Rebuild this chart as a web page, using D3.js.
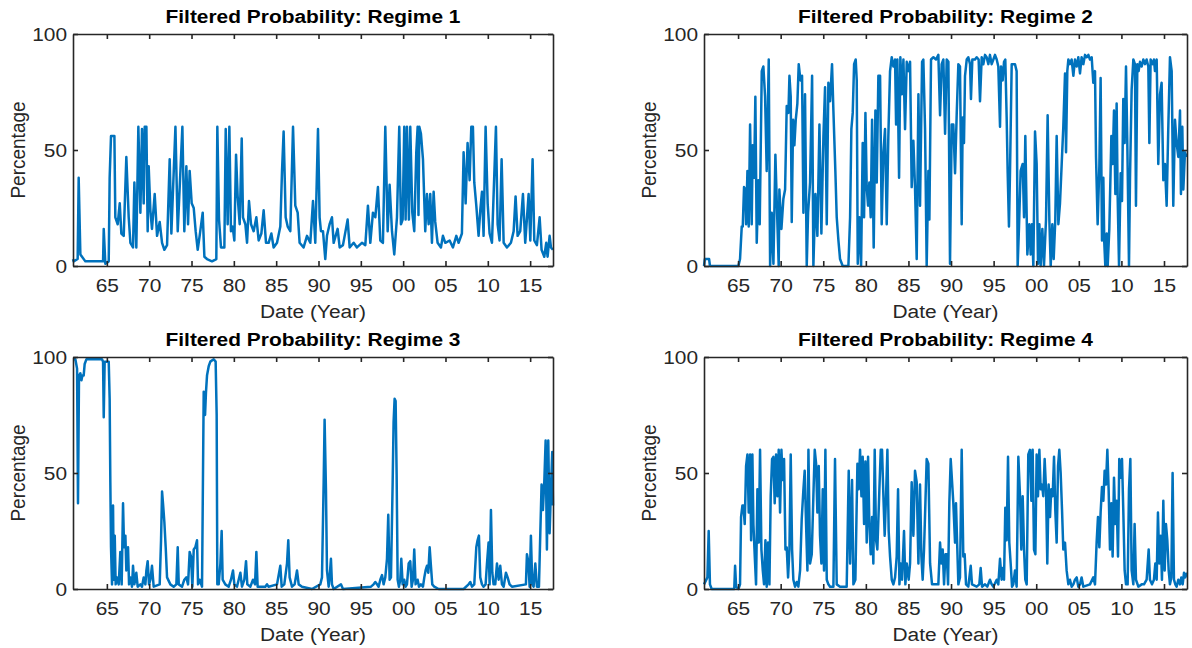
<!DOCTYPE html>
<html>
<head>
<meta charset="utf-8">
<script src="https://cdn.jsdelivr.net/npm/d3@7"></script>
<style>
body{margin:0;background:#fff;}
</style>
</head>
<body>
<script>
// years are given as (year - 1900), e.g. 61.5 = mid 1961, 105.0 = 2005
var regime1 = [[61.0,3],[61.08,2],[61.55,3],[61.67,38],[61.87,5],[62.46,2],[64.55,2],[64.63,16],[64.82,1],[65.22,2],[65.33,38],[65.49,56],[65.89,56],[66.00,21],[66.28,18],[66.52,27],[66.71,14],[66.99,13],[67.30,47],[67.58,21],[67.78,10],[68.09,8],[68.25,36],[68.48,8],[68.72,60],[68.96,23],[69.15,59],[69.35,27],[69.47,60],[69.67,60],[69.82,15],[69.94,43],[70.14,24],[70.33,16],[70.65,31],[70.93,13],[71.24,19],[71.52,10],[71.79,7],[72.11,9],[72.42,46],[72.62,14],[73.10,60],[73.37,15],[73.69,41],[73.92,60],[74.15,15],[74.39,43],[74.59,18],[74.78,41],[75.02,27],[75.26,25],[75.49,15],[75.73,7],[75.96,13],[76.32,23],[76.52,4],[76.83,3],[77.42,2],[77.93,3],[78.05,60],[78.25,20],[78.48,8],[78.88,8],[79.04,59],[79.27,18],[79.47,60],[79.66,15],[79.86,17],[80.06,11],[80.26,48],[80.45,30],[80.69,18],[80.93,55],[81.08,21],[81.36,18],[81.56,10],[81.79,28],[82.03,18],[82.34,15],[82.66,21],[82.93,11],[83.25,14],[83.52,24],[83.80,10],[84.11,10],[84.43,14],[84.70,8],[85.10,10],[85.49,17],[85.69,41],[85.88,58],[86.12,21],[86.36,17],[86.67,15],[86.99,60],[87.26,26],[87.54,23],[87.77,10],
  [88.24,8],[88.64,13],[89.03,10],[89.35,28],[89.62,10],[89.94,59],[90.13,21],[90.29,15],[90.53,15],[90.80,3],[91.00,13],[91.31,18],[91.59,21],[91.79,10],[92.26,16],[92.50,8],[92.89,9],[93.44,20],[93.68,8],[94.15,10],[94.54,8],[95.13,10],[95.53,9],[95.84,26],[96.12,10],[96.43,23],[96.71,21],[97.02,34],[97.30,11],[97.61,10],[97.89,60],[98.17,15],[98.40,35],[98.68,15],[98.95,5],[99.27,21],[99.54,60],[99.74,18],[99.94,20],[100.13,60],[100.29,20],[100.45,60],[100.68,20],[100.84,60],[101.08,23],[101.31,15],[101.55,49],[101.71,60],[101.81,22],[101.91,60],[102.10,57],[102.34,46],[102.61,15],[102.81,31],[103.01,18],[103.20,31],[103.40,10],[103.60,32],[103.79,19],[104.07,10],[104.46,8],[104.70,13],[104.98,10],[105.49,11],[105.88,8],[106.28,13],[106.55,10],[106.94,14],[107.14,49],[107.38,27],[107.61,53],[107.85,37],[108.05,60],[108.24,60],[108.40,36],[108.64,26],[108.91,13],[109.11,24],[109.31,32],[109.50,13],[109.74,60],[109.98,27],[110.21,14],[110.49,10],[110.96,60],[111.16,18],[111.39,11],[111.63,46],[111.87,10],[112.26,8],[112.73,10],[113.05,15],[113.28,30],[113.52,13],[113.83,15],[114.15,31],[114.42,10],[114.82,31],[115.02,11],[115.29,46],[115.49,11],[115.80,9],[116.12,21],[116.35,7],[116.67,4],[116.90,10],[117.06,4],[117.30,13],[117.46,8],[117.69,7]];

var regime2 = [[61.0,0],[61.1,3],[61.6,3],[61.7,0],[65.04,0],[65.23,3],[65.43,17],[65.55,17],[65.70,34],[65.86,33],[65.94,18],[66.10,41],[66.25,17],[66.41,61],[66.60,18],[66.72,52],[66.88,38],[67.03,73],[67.19,10],[67.39,37],[67.54,18],[67.78,84],[67.97,86],[68.17,73],[68.36,41],[68.60,89],[68.76,0],[68.95,23],[69.15,1],[69.38,48],[69.62,18],[69.77,0],[69.85,33],[70.09,16],[70.32,29],[70.52,33],[70.71,69],[70.91,66],[71.03,82],[71.18,73],[71.30,19],[71.46,63],[71.61,52],[71.77,63],[71.96,70],[72.12,87],[72.32,80],[72.51,82],[72.67,23],[72.86,74],[73.06,0],[73.22,23],[73.45,36],[73.69,82],[73.84,0],[74.08,31],[74.31,13],[74.55,61],[74.78,14],[75.02,56],[75.21,77],[75.41,18],[75.60,79],[75.80,71],[76.03,87],[76.19,67],[76.42,41],[76.58,21],[76.78,11],[76.97,3],[77.28,0],[77.95,0],[78.15,21],[78.30,59],[78.46,66],[78.62,87],[78.81,89],[78.93,80],[79.05,1],[79.24,21],[79.44,0],[79.63,53],[79.79,21],[79.95,66],[80.10,34],[80.26,26],[80.41,36],[80.57,21],[80.73,63],[80.92,8],[81.12,67],[81.28,36],[81.47,82],[81.67,82],[81.86,18],[82.06,49],[82.25,59],[82.45,18],[82.64,56],[82.84,84],[83.04,90],[83.23,86],[83.43,89],[83.55,61],[83.70,89],[83.90,38],[84.05,90],[84.25,74],[84.41,89],[84.60,59],[84.80,88],[84.99,84],[85.19,88],[85.38,34],[85.58,54],[85.77,34],[85.97,3],[86.17,74],[86.36,26],[86.60,88],[86.75,89],[86.95,59],[87.14,0],[87.34,41],[87.46,20],[87.65,89],[87.93,90],[88.24,89],[88.51,91],[88.71,65],[88.90,87],[89.10,89],[89.30,57],[89.49,89],[89.69,88],[89.88,1],[90.08,61],[90.27,61],[90.47,40],[90.67,66],[90.86,87],
  [91.05,86],[91.25,18],[91.37,64],[91.52,53],[91.64,82],[91.84,89],[92.03,90],[92.23,87],[92.34,72],[92.50,89],[92.81,89],[93.01,90],[93.24,89],[93.40,71],[93.60,90],[93.79,87],[93.99,91],[94.18,90],[94.38,87],[94.57,91],[94.77,87],[94.97,89],[95.16,91],[95.36,89],[95.55,86],[95.75,60],[95.87,86],[96.06,80],[96.22,88],[96.37,89],[96.53,64],[96.65,40],[96.80,17],[96.92,40],[97.12,87],[97.31,87],[97.51,87],[97.70,84],[97.82,0],[97.98,17],[98.17,41],[98.41,44],[98.57,21],[98.72,56],[98.96,5],[99.19,18],[99.35,5],[99.50,18],[99.66,0],[99.86,58],[100.05,44],[100.21,1],[100.37,18],[100.52,0],[100.72,16],[100.91,0],[101.15,20],[101.34,65],[101.54,20],[101.70,0],[101.89,18],[102.05,3],[102.24,20],[102.40,56],[102.60,18],[102.79,27],[102.99,44],[103.18,60],[103.38,83],[103.50,49],[103.65,84],[103.77,89],[103.96,87],[104.16,89],[104.36,82],[104.55,89],[104.75,86],[104.94,90],[105.14,83],[105.33,90],[105.53,87],[105.73,91],[105.92,90],[106.12,91],[106.31,89],[106.51,90],[106.70,79],[106.90,84],[107.02,47],[107.21,18],[107.41,43],[107.56,81],[107.72,11],[107.88,38],[107.99,10],[108.11,0],[108.27,14],[108.39,0],[108.58,16],[108.82,56],[108.97,44],[109.13,67],[109.29,31],[109.44,70],[109.56,30],[109.72,0],[109.91,40],[110.07,28],[110.22,72],[110.38,53],[110.54,86],[110.69,54],[110.89,0],[111.01,38],[111.20,76],[111.40,89],[111.59,87],[111.71,26],[111.87,87],[112.02,84],[112.18,88],[112.38,86],[112.57,89],[112.77,87],[112.96,89],[113.16,86],[113.28,53],[113.43,89],[113.67,87],[113.82,89],[113.94,84],[114.14,89],[114.33,44],[114.53,74],[114.72,79],[114.92,37],[115.11,44],[115.31,26],[115.50,59],[115.70,90],[115.90,84],[116.09,26],[116.29,63],[116.48,53],[116.68,47],[116.88,67],[116.99,31],[117.15,60],[117.27,33],[117.46,49],[117.66,47]];

var regime3 = [[61.0,99],[61.28,99],[61.48,95],[61.59,37],[61.71,92],[61.87,93],[62.0,90],[62.11,92],[62.26,92],[62.38,97],[62.58,99],[64.43,99],[64.55,98],[64.63,74],[64.74,98],[65.22,98],[65.33,82],[65.41,46],[65.49,18],[65.61,2],[65.73,36],[65.81,4],[65.93,23],[66.04,2],[66.20,5],[66.40,2],[66.59,16],[66.75,2],[66.91,37],[67.03,18],[67.19,23],[67.30,8],[67.50,18],[67.62,2],[67.78,5],[67.97,1],[68.09,10],[68.25,2],[68.48,7],[68.64,1],[68.96,2],[69.15,1],[69.35,5],[69.55,2],[69.67,8],[69.82,12],[69.98,2],[70.14,4],[70.33,10],[70.53,1],[71.24,2],[71.40,21],[71.52,42],[71.63,37],[71.79,29],[71.95,18],[72.11,5],[72.50,2],[72.89,1],[73.21,2],[73.37,18],[73.49,2],[73.88,1],[74.15,4],[74.39,5],[74.59,2],[74.78,16],[74.94,14],[75.10,1],[75.26,17],[75.45,18],[75.65,21],[75.77,2],[75.96,4],[76.24,1],[76.44,85],[76.60,75],[76.71,85],[76.83,92],[77.03,96],[77.22,98],[77.62,99],[77.85,98],[77.97,75],[78.05,2],[78.21,2],[78.41,11],[78.56,25],[78.68,4],[78.99,2],[79.39,1],[79.66,4],[79.90,8],[80.06,2],[80.37,1],[80.77,7],[80.96,1],[81.24,4],[81.44,12],[81.59,2],[81.95,1],[82.26,4],[82.50,2],[82.66,16],[82.81,1],[83.72,1],[83.92,2],[84.11,1],[85.10,2],[85.49,10],[85.65,1],[85.96,2],[86.28,11],[86.43,21],[86.59,5],[86.87,1],[87.18,2],[87.46,8],[87.66,2],[88.05,1],
  [89.23,0],[90.21,2],[90.41,5],[90.61,46],[90.72,73],[90.88,43],[91.0,8],[91.2,1],[91.31,5],[91.47,13],[91.59,2],[91.79,0],[92.65,2],[92.89,0],[96.20,1],[96.51,2],[96.71,3],[96.91,2],[97.10,1],[97.30,4],[97.50,6],[97.69,2],[97.89,5],[98.09,13],[98.24,32],[98.40,4],[98.56,5],[98.76,46],[98.87,72],[98.99,82],[99.11,81],[99.23,49],[99.35,4],[99.50,1],[99.66,4],[99.78,13],[99.94,2],[100.13,4],[100.29,1],[100.45,2],[100.65,11],[100.84,12],[101.0,1],[101.16,4],[101.31,17],[101.47,2],[101.71,4],[101.87,1],[102.10,2],[102.34,1],[102.50,5],[102.65,8],[102.81,10],[102.97,7],[103.13,18],[103.28,10],[103.44,2],[103.67,1],[104.19,0],[107.14,0],[107.73,2],[107.93,3],[108.13,1],[108.40,2],[108.64,18],[108.79,21],[108.95,23],[109.11,5],[109.31,2],[109.50,1],[109.74,2],[109.90,11],[110.09,20],[110.21,2],[110.37,34],[110.53,7],[110.68,2],[110.88,2],[111.08,11],[111.28,4],[111.47,10],[111.67,2],[111.87,1],[112.14,7],[112.34,5],[112.57,2],[112.85,1],[114.50,2],[114.62,15],[114.78,12],[114.94,1],[115.09,23],[115.25,2],[115.41,1],[115.61,11],[115.80,1],[116.04,1],[116.20,24],[116.35,45],[116.51,34],[116.67,46],[116.83,64],[116.98,17],[117.14,64],[117.30,24],[117.46,43],[117.61,59],[117.7,36]];

var regime4 = [[61.0,2],[61.4,5],[61.55,25],[61.7,2],[61.9,0],[64.55,0],[64.65,10],[64.77,1],[65.04,0],[65.23,2],[65.35,31],[65.51,36],[65.63,36],[65.78,28],[65.94,53],[66.10,58],[66.25,33],[66.41,58],[66.53,21],[66.68,58],[66.80,28],[66.96,14],[67.11,2],[67.27,43],[67.43,20],[67.58,60],[67.74,17],[67.90,8],[68.05,2],[68.21,21],[68.36,1],[68.52,20],[68.68,2],[68.83,40],[68.99,56],[69.15,57],[69.30,37],[69.46,58],[69.62,40],[69.77,60],[69.93,33],[70.09,60],[70.24,47],[70.40,56],[70.56,17],[70.71,18],[70.87,5],[71.03,17],[71.18,58],[71.34,17],[71.49,4],[71.69,1],[71.89,3],[72.08,1],[72.28,8],[72.47,30],[72.67,43],[72.82,51],[72.98,28],[73.14,8],[73.26,60],[73.45,11],[73.65,15],[73.84,40],[74.00,60],[74.16,54],[74.31,33],[74.47,53],[74.62,23],[74.78,11],[74.94,43],[75.09,8],[75.25,60],[75.41,4],[75.60,2],[75.80,1],[76.19,1],[76.38,56],[76.58,2],[76.97,1],[77.75,1],[77.99,51],[78.15,11],[78.38,47],[78.54,2],[78.77,4],[79.01,54],[79.16,43],[79.32,60],[79.48,40],[79.63,57],[79.79,28],[79.95,55],[80.10,20],[80.26,57],[80.41,28],[80.57,15],[80.73,31],[80.88,11],[81.04,60],[81.20,21],[81.35,17],[81.59,43],[81.75,60],[81.90,60],[82.06,40],[82.21,23],[82.37,40],[82.53,60],[82.68,25],[82.84,14],[83.04,4],[83.23,2],[83.43,5],[83.62,14],[83.78,43],[83.94,2],[84.09,11],[84.25,4],[84.48,25],[84.64,2],[84.80,11],[85.03,4],[85.19,11],[85.38,46],[85.58,23],[85.77,51],[85.97,46],[86.17,11],[86.36,45],[86.52,14],[86.67,4],[86.83,17],[86.99,37],[87.14,56],[87.34,54],[87.54,11],[87.77,2],[88.12,2],[88.51,2],[88.71,20],[88.87,11],[89.02,17],[89.18,2],[89.34,15],[89.49,15],[89.65,2],[89.80,37],[89.96,56],
  [90.27,37],[90.47,20],[90.58,37],[90.86,2],[91.05,5],[91.25,60],[91.44,14],[91.60,15],[91.76,2],[92.03,1],[92.31,10],[92.46,2],[93.01,1],[93.32,2],[93.48,9],[93.64,1],[93.99,2],[94.26,1],[94.57,4],[94.77,2],[94.97,1],[95.36,4],[95.55,2],[95.75,13],[95.94,4],[96.06,9],[96.22,4],[96.37,35],[96.53,21],[96.69,57],[96.84,20],[97.00,11],[97.16,1],[97.31,2],[97.51,8],[97.70,1],[97.90,57],[98.10,40],[98.25,17],[98.41,40],[98.57,17],[98.72,4],[98.88,2],[99.07,58],[99.27,60],[99.43,38],[99.58,60],[99.74,17],[99.90,15],[100.05,58],[100.21,40],[100.37,60],[100.52,43],[100.68,45],[100.83,40],[100.99,56],[101.15,43],[101.30,11],[101.46,45],[101.62,31],[101.77,43],[101.93,40],[102.09,57],[102.24,34],[102.40,20],[102.56,53],[102.71,60],[102.87,50],[103.03,34],[103.18,17],[103.38,20],[103.57,8],[103.77,2],[103.96,4],[104.16,1],[104.36,2],[104.55,4],[104.75,5],[104.94,1],[105.14,2],[105.33,5],[105.53,1],[106.31,2],[106.70,5],[106.90,2],[107.09,20],[107.25,31],[107.41,18],[107.56,33],[107.72,44],[107.88,38],[108.03,51],[108.19,45],[108.35,60],[108.50,43],[108.66,17],[108.82,37],[108.97,14],[109.13,48],[109.29,28],[109.44,38],[109.60,14],[109.75,56],[109.91,48],[110.07,56],[110.22,34],[110.38,8],[110.54,2],[110.73,2],[110.89,43],[111.05,56],[111.20,8],[111.40,2],[111.55,28],[111.71,4],[111.99,1],[112.38,2],[112.65,2],[112.96,4],[113.20,17],[113.35,4],[113.59,2],[113.82,4],[113.98,11],[114.14,4],[114.29,33],[114.45,11],[114.61,23],[114.76,4],[114.92,38],[115.08,8],[115.23,28],[115.39,21],[115.55,8],[115.70,2],[115.86,5],[116.01,50],[116.17,4],[116.33,2],[116.48,1],[116.68,4],[116.88,2],[117.03,5],[117.19,2],[117.35,7],[117.50,5],[117.70,7]];

var titles = ["Filtered Probability: Regime 1", "Filtered Probability: Regime 2",
              "Filtered Probability: Regime 3", "Filtered Probability: Regime 4"];
var xTicks = [65, 70, 75, 80, 85, 90, 95, 100, 105, 110, 115];
var yTicks = [0, 50, 100];
var xDomain = [61, 117.7];
var yDomain = [0, 100];
var xLabel = "Date (Year)";
var yLabel = "Percentage";

var series = [regime1, regime2, regime3, regime4];
var layout = [
    {left: 73,  top: 34,  width: 480, height: 232},
    {left: 704, top: 34,  width: 483, height: 232},
    {left: 73,  top: 357, width: 480, height: 232},
    {left: 704, top: 357, width: 483, height: 232}
];

var FONT = "'Liberation Sans', Arial, Helvetica, sans-serif",
    FS = 19,
    SX = 1.1,          // the picture is a little wider than tall
    INK = "#262626",
    BLUE = "#0072BD";

var svg = d3.select("body").append("svg")
    .attr("width", 1192)
    .attr("height", 648);

function fmtYear(d){
    var s = String(d % 100);
    return s.length < 2 ? "0" + s : s;
}

function addText(parent, x, y, txt, opts){
    opts = opts || {};
    var t = "translate(" + x + "," + y + ") scale(" + SX + ",1)";
    if(opts.rotate){ t += " rotate(" + opts.rotate + ")"; }
    return parent.append("text")
        .attr("transform", t)
        .attr("text-anchor", opts.anchor || "middle")
        .attr("font-family", FONT)
        .attr("font-size", FS)
        .attr("font-weight", opts.bold ? "bold" : "normal")
        .attr("fill", opts.color || INK)
        .text(txt);
}

function styleAxis(a){
    a.attr("font-family", FONT).attr("font-size", FS);
    a.selectAll(".domain, .tick line")
        .attr("stroke", INK)
        .attr("stroke-width", 1.6);
    a.selectAll(".tick text").attr("fill", INK);
}

series.forEach(function(data, i){
    var L = layout[i];
    var x = d3.scaleLinear().domain(xDomain).range([0, L.width]);
    var y = d3.scaleLinear().domain(yDomain).range([L.height, 0]);
    var g = svg.append("g")
        .attr("transform", "translate(" + L.left + "," + L.top + ")");

    g.append("path")
        .datum(data)
        .attr("fill", "none")
        .attr("stroke", BLUE)
        .attr("stroke-width", 2.5)
        .attr("stroke-linejoin", "round")
        .attr("d", d3.line()
            .x(function(d){ return x(d[0]); })
            .y(function(d){ return y(d[1]); }));

    var bottom = g.append("g")
        .attr("transform", "translate(0," + L.height + ")")
        .call(d3.axisBottom(x).tickValues(xTicks).tickSize(-5).tickSizeOuter(0).tickFormat(fmtYear));
    styleAxis(bottom);
    bottom.selectAll(".tick text")
        .attr("y", 26).attr("dy", null)
        .attr("transform", "scale(" + SX + ",1)");

    var left = g.append("g")
        .call(d3.axisLeft(y).tickValues(yTicks).tickSize(-5).tickSizeOuter(0));
    styleAxis(left);
    left.selectAll(".tick text")
        .attr("x", -6 / SX).attr("dy", "0.36em")
        .attr("transform", "scale(" + SX + ",1)");

    var top = g.append("g")
        .call(d3.axisTop(x).tickValues(xTicks).tickSize(-5).tickSizeOuter(0).tickFormat(""));
    styleAxis(top);

    var right = g.append("g")
        .attr("transform", "translate(" + L.width + ",0)")
        .call(d3.axisRight(y).tickValues(yTicks).tickSize(-5).tickSizeOuter(0).tickFormat(""));
    styleAxis(right);

    addText(g, L.width / 2, -11, titles[i], {bold: true, color: "#000"});
    addText(g, L.width / 2, L.height + 52, xLabel);
    addText(g, -48, L.height / 2, yLabel, {rotate: -90});
});
</script>
</body>
</html>
